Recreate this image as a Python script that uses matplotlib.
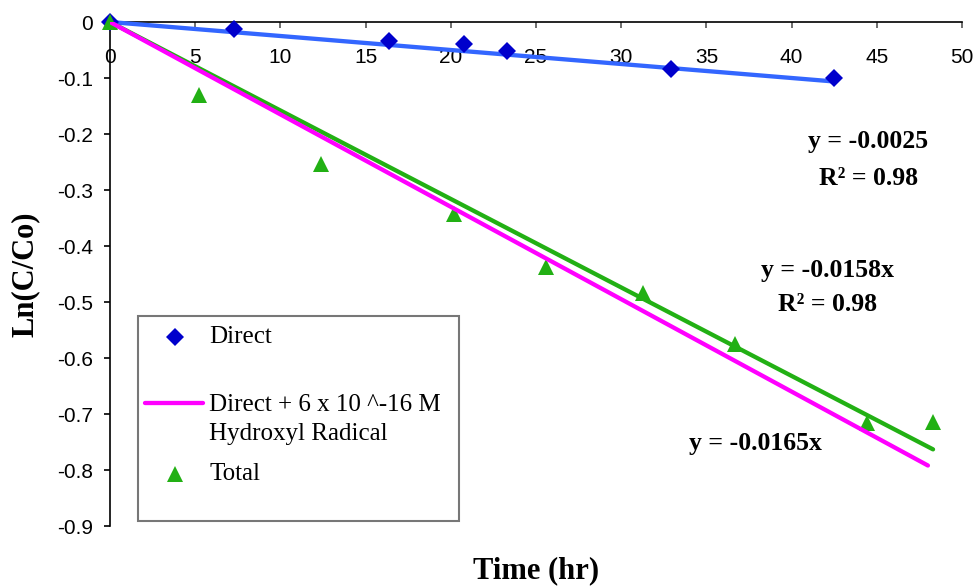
import matplotlib
matplotlib.use("Agg")
import matplotlib.pyplot as plt
from matplotlib.lines import Line2D
from matplotlib.patches import Rectangle

plt.rcParams["axes.unicode_minus"] = False

# Measured ln(C/Co) values over time (hr)
direct_t = [0, 7.3, 16.4, 20.8, 23.3, 32.9, 42.5]
direct_ln = [0, -0.013, -0.034, -0.039, -0.052, -0.084, -0.100]

total_t = [0, 5.2, 12.4, 20.2, 25.6, 31.3, 36.7, 44.4, 48.3]
total_ln = [0, -0.130, -0.254, -0.343, -0.437, -0.484, -0.575, -0.716, -0.714]

# Fitted / modelled slopes (per hr)
direct_slope = -0.0025
total_slope = -0.0158
model_slope = -0.0165
model_t = [0, 48.0]

x_ticks = [0, 5, 10, 15, 20, 25, 30, 35, 40, 45, 50]
y_ticks = [0, -0.1, -0.2, -0.3, -0.4, -0.5, -0.6, -0.7, -0.8, -0.9]
y_tick_labels = ["0", "-0.1", "-0.2", "-0.3", "-0.4", "-0.5", "-0.6", "-0.7", "-0.8", "-0.9"]

SERIF = "Liberation Serif"
SANS = "Liberation Sans"

fig = plt.figure(figsize=(9.79, 5.88), dpi=100)
ax = fig.add_axes([110 / 979, 1 - 526 / 588, 852 / 979, 504 / 588])

ax.set_xlim(0, 50)
ax.set_ylim(-0.9, 0)

LW = 3.1

# Fit lines
dfit_t = [direct_t[0], direct_t[-1]]
ax.plot(dfit_t, [direct_slope * t for t in dfit_t], color="#3366FF", lw=LW,
        solid_capstyle="round", zorder=3, clip_on=False)
tfit_t = [total_t[0], total_t[-1]]
ax.plot(tfit_t, [total_slope * t for t in tfit_t], color="#22B014", lw=LW,
        solid_capstyle="round", zorder=3)

# Data points
ax.plot(direct_t, direct_ln, linestyle="none", marker="D", markersize=9.5,
        color="#0000CC", markeredgewidth=0, zorder=4, clip_on=False)
ax.plot(total_t, total_ln, linestyle="none", marker="^", markersize=11.5,
        color="#22B014", markeredgewidth=0, zorder=4, clip_on=False)

# Model line: direct photolysis plus hydroxyl radical
ax.plot(model_t, [model_slope * t for t in model_t], color="#FF00FF", lw=LW,
        solid_capstyle="round", zorder=5)

# Axes styling: x axis drawn along y = 0
for side in ("top", "right"):
    ax.spines[side].set_visible(False)
ax.spines["bottom"].set_position(("data", 0))
ax.spines["bottom"].set_zorder(2)
ax.spines["left"].set_linewidth(1.2)
ax.spines["bottom"].set_linewidth(1.2)

ax.set_xticks(x_ticks)
ax.set_xticklabels([str(v) for v in x_ticks], fontfamily=SANS, fontsize=15)
ax.set_yticks(y_ticks)
ax.set_yticklabels(y_tick_labels, fontfamily=SANS, fontsize=15)
ax.tick_params(axis="x", direction="out", length=4.5, width=1.2, color="#555555", pad=14)
ax.tick_params(axis="y", direction="out", length=4.5, width=1.2, pad=8)

ax.set_xlabel("Time (hr)", fontfamily=SERIF, fontweight="bold", fontsize=22)
ax.xaxis.set_label_coords(0.5, -0.088)
ax.xaxis.label.set_verticalalignment("center")
ax.set_ylabel("Ln(C/Co)", fontfamily=SERIF, fontweight="bold", fontsize=22)
ax.yaxis.set_label_coords(-0.0998, 0.5)
ax.yaxis.label.set_verticalalignment("center")

# Equation labels
eq_kw = dict(fontfamily=SERIF, fontweight="bold", fontsize=18.5,
             ha="center", va="center", zorder=6)
ax.text(44.5, -0.214, f"y = {direct_slope:.4f}", **eq_kw)
ax.text(44.5, -0.280, "R² = 0.98", **eq_kw)
ax.text(42.1, -0.443, f"y = {total_slope:.4f}x", **eq_kw)
ax.text(42.1, -0.505, "R² = 0.98", **eq_kw)
ax.text(37.85, -0.752, f"y = {model_slope:.4f}x", **eq_kw)

# Legend box
tr = ax.transAxes
ax.add_patch(Rectangle((0.0329, 0.0099), 0.3767, 0.4068, transform=tr,
                       facecolor="white", edgecolor="#777777", lw=1.5, zorder=7))
leg_kw = dict(fontfamily=SERIF, fontsize=18, ha="left", va="center",
              transform=tr, zorder=8)
ax.add_line(Line2D([0.0763], [0.375], transform=tr, marker="D", markersize=9.5,
                   color="#0000CC", markeredgewidth=0, linestyle="none", zorder=8))
ax.text(0.1162, 0.375, "Direct", **leg_kw)
ax.add_line(Line2D([0.0411, 0.1092], [0.244, 0.244], transform=tr,
                   color="#FF00FF", lw=LW, solid_capstyle="round", zorder=8))
ax.text(0.1162, 0.240, "Direct + 6 x 10 ^-16 M", **leg_kw)
ax.text(0.1162, 0.1825, "Hydroxyl Radical", **leg_kw)
ax.add_line(Line2D([0.0763], [0.1032], transform=tr, marker="^", markersize=11.5,
                   color="#22B014", markeredgewidth=0, linestyle="none", zorder=8))
ax.text(0.1162, 0.1032, "Total", **leg_kw)

fig.savefig("out.png", dpi=100)
